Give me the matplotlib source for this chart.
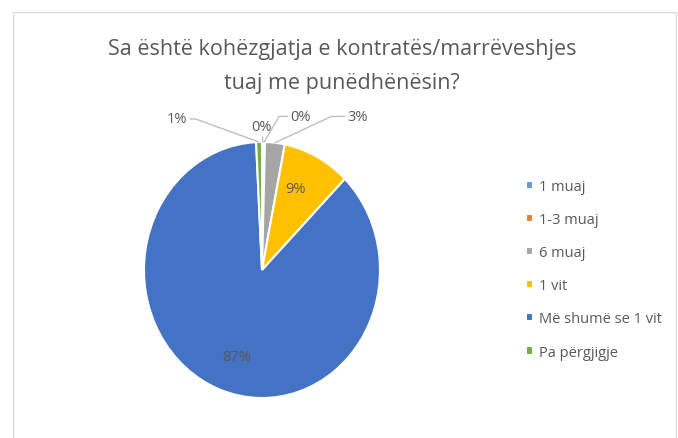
import matplotlib
matplotlib.use("Agg")
import matplotlib.pyplot as plt
import numpy as np
from matplotlib.patches import Rectangle

plt.rcParams['font.family'] = ['Open Sans', 'DejaVu Sans']

# data
categories = ["1 muaj", "1-3 muaj", "6 muaj", "1 vit", "Më shumë se 1 vit", "Pa përgjigje"]
shares = [0.2, 0.2, 2.7, 9.3, 86.8, 0.8]
pct_labels = ["0%", "0%", "3%", "9%", "87%", "1%"]
colors = ["#5B9BD5", "#ED7D31", "#A5A5A5", "#FFC000", "#4472C4", "#70AD47"]

W, H = 678, 439
fig = plt.figure(figsize=(W / 100, H / 100), dpi=100)

# outer chart frame
fig.patches.append(Rectangle((13 / W, -0.05), (676 - 13) / W, (H - 13) / H + 0.05,
                             transform=fig.transFigure, fill=False,
                             edgecolor="#D9D9D9", linewidth=1))

fig.text(342 / W, 1 - 49 / H, "Sa është kohëzgjatja e kontratës/marrëveshjes",
         ha="center", va="center", fontsize=15.5, color="#595959")
fig.text(342 / W, 1 - 83 / H, "tuaj me punëdhënësin?",
         ha="center", va="center", fontsize=15.5, color="#595959")

# pie axes, slightly taller than wide like the original
cx, cy, rx, ry = 262, 271, 118, 128
ax = fig.add_axes([(cx - rx) / W, (H - cy - ry) / H, 2 * rx / W, 2 * ry / H])
wedges, _ = ax.pie(shares, colors=colors, startangle=90, counterclock=False,
                   wedgeprops=dict(edgecolor="white", linewidth=1.5))
ax.set_aspect("auto")
ax.set_xlim(-1, 1)
ax.set_ylim(-1, 1)
ax.axis("off")

lab_kw = dict(fontsize=10.5, color="#595959", ha="center", va="center")
line_kw = dict(arrowstyle="-", color="#BFBFBF", lw=1, shrinkA=0, shrinkB=0)

# inside labels for the big slices
for i in (3, 4):
    w = wedges[i]
    ang = np.radians((w.theta1 + w.theta2) / 2)
    ax.text(0.6 * np.cos(ang), 0.72 * np.sin(ang), pct_labels[i], **lab_kw)

# outside labels with leader lines for the thin slices
def tip(i):
    w = wedges[i]
    ang = np.radians((w.theta1 + w.theta2) / 2)
    return np.cos(ang), np.sin(ang)

# 1 muaj
ax.annotate(pct_labels[0], xy=tip(0), xytext=(0.0, 1.12), **lab_kw,
            arrowprops=dict(line_kw))
# 1-3 muaj
ax.annotate(pct_labels[1], xy=tip(1), xytext=(0.33, 1.2), **lab_kw,
            arrowprops=dict(line_kw, connectionstyle="angle,angleA=0,angleB=60,rad=0"))
# 6 muaj
ax.annotate(pct_labels[2], xy=tip(2), xytext=(0.81, 1.2), **lab_kw,
            arrowprops=dict(line_kw, connectionstyle="angle,angleA=0,angleB=25,rad=0"))
# Pa pergjigje
ax.annotate(pct_labels[5], xy=tip(5), xytext=(-0.72, 1.18), **lab_kw,
            arrowprops=dict(line_kw, connectionstyle="angle,angleA=180,angleB=160,rad=0"))

# legend
leg = fig.legend(wedges, categories, loc="upper left",
                 bbox_to_anchor=(513 / W, 1 - 167 / H), frameon=False,
                 fontsize=10.5, labelcolor="#595959", handlelength=0.5,
                 handleheight=0.5, handletextpad=0.4, labelspacing=1.24)

fig.savefig("out.png", dpi=100)
